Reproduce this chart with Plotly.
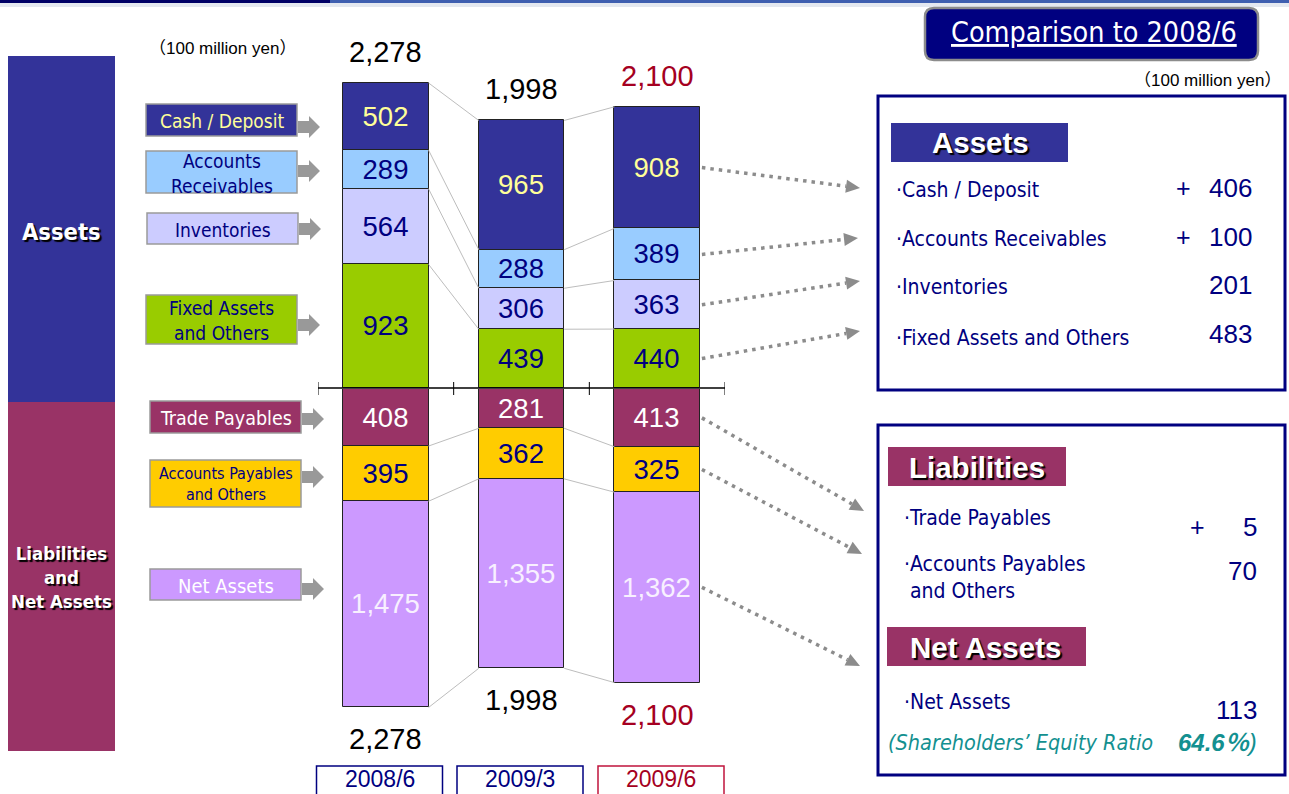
import math
import plotly.graph_objects as go

# ---------------- data ----------------
periods = ["2008/6", "2009/3", "2009/6"]
cash_deposit = [502, 965, 908]
accounts_receivables = [289, 288, 389]
inventories = [564, 306, 363]
fixed_assets_others = [923, 439, 440]
trade_payables = [408, 281, 413]
accounts_payables_others = [395, 362, 325]
net_assets = [1475, 1355, 1362]

change_asset_labels = ["Cash / Deposit", "Accounts Receivables", "Inventories", "Fixed Assets and Others"]
change_asset_signs = ["+", "+", "", ""]
change_asset_values = [406, 100, 201, 483]
change_liab_labels = ["Trade Payables", "Accounts Payables<br>and Others"]
change_liab_signs = ["+", ""]
change_liab_values = [5, 70]
change_net_label = "Net Assets"
change_net_value = 113
equity_ratio = 64.6

# ---------------- layout constants ----------------
W, H = 1289, 794
AX_L, AX_R = 318, 725
BASE_A, A_SCALE, TOP_A = 388, 0.1339, 40
BASE_L, L_SCALE, BOT_L = 389, 0.1398, 770
BW = 0.63
NARROW = "Liberation Sans Narrow, Arial Narrow, DejaVu Sans Condensed, sans-serif"
SANS = "Liberation Sans, Arial, Noto Sans CJK JP, sans-serif"
NAVY = "#000080"
n = len(periods)
cat_w = (AX_R - AX_L) / n


def px(x):
    return x / W


def py(y):
    return 1 - y / H


def xpix(xv):
    return AX_L + (xv + 0.5) * cat_w


def ya_pix(v):
    return BASE_A - v * A_SCALE


def yl_pix(v):
    return BASE_L + v * L_SCALE


asset_series = [
    ("Fixed Assets and Others", fixed_assets_others, "#99CC00", NAVY),
    ("Inventories", inventories, "#CCCCFF", NAVY),
    ("Accounts Receivables", accounts_receivables, "#99CCFF", NAVY),
    ("Cash / Deposit", cash_deposit, "#333399", "#FFFF99"),
]
liab_series = [
    ("Trade Payables", trade_payables, "#993366", "#FFFFFF"),
    ("Accounts Payables and Others", accounts_payables_others, "#FFCC00", NAVY),
    ("Net Assets", net_assets, "#CC99FF", "#F8F0FF"),
]

xs = list(range(n))
fig = go.Figure()


def connectors(series, sign, yaxis):
    cx, cy = [], []
    cum = [0] * n
    for _, vals, _, _ in series:
        cum = [c + v for c, v in zip(cum, vals)]
        for i in range(n - 1):
            cx += [i + BW / 2, i + 1 - BW / 2, None]
            cy += [sign * cum[i], sign * cum[i + 1], None]
    fig.add_trace(go.Scatter(x=cx, y=cy, mode="lines", yaxis=yaxis,
                             line=dict(color="#BDBDBD", width=1),
                             hoverinfo="skip", showlegend=False))


connectors(asset_series, 1, "y")
connectors(liab_series, -1, "y2")

for name, vals, col, tcol in asset_series:
    fig.add_trace(go.Bar(x=xs, y=vals, yaxis="y", width=BW, name=name,
                         marker=dict(color=col, line=dict(color="#222222", width=1)),
                         text=[f"{v:,}" for v in vals], textposition="inside",
                         insidetextanchor="middle", textangle=0,
                         textfont=dict(size=27.5, color=tcol, family=SANS),
                         hoverinfo="skip", showlegend=False))
for name, vals, col, tcol in liab_series:
    fig.add_trace(go.Bar(x=xs, y=[-v for v in vals], yaxis="y2", width=BW, name=name,
                         marker=dict(color=col, line=dict(color="#222222", width=1)),
                         text=[f"{v:,}" for v in vals], textposition="inside",
                         insidetextanchor="middle", textangle=0,
                         textfont=dict(size=27.5, color=tcol, family=SANS),
                         hoverinfo="skip", showlegend=False))

asset_tot = [sum(s[1][i] for s in asset_series) for i in range(n)]
liab_tot = [sum(s[1][i] for s in liab_series) for i in range(n)]
tot_colors = ["#000000", "#000000", "#A50021"]
period_colors = [NAVY, NAVY, "#C0143C"]
period_text = [NAVY, NAVY, "#A50021"]

annotations = []
shapes = []

for i in range(n):
    annotations.append(dict(x=i, y=asset_tot[i], xref="x", yref="y", yshift=31,
                            text=f"{asset_tot[i]:,}", showarrow=False,
                            font=dict(size=29, color=tot_colors[i], family=SANS)))
    annotations.append(dict(x=i, y=-liab_tot[i], xref="x", yref="y2", yshift=-32,
                            text=f"{liab_tot[i]:,}", showarrow=False,
                            font=dict(size=29, color=tot_colors[i], family=SANS)))


def ann(text, x, y, size, color, family=SANS, xanchor="center", yanchor="middle", shadow=None, align="center"):
    d = dict(text=text, x=px(x), y=py(y), xref="paper", yref="paper", showarrow=False,
             xanchor=xanchor, yanchor=yanchor, align=align,
             font=dict(size=size, color=color, family=family))
    if shadow:
        d["font"]["shadow"] = shadow
    annotations.append(d)


def rect(x0, y0, x1, y1, fill, line=None, lw=1, layer="above"):
    shapes.append(dict(type="rect", xref="paper", yref="paper",
                       x0=px(x0), x1=px(x1), y0=py(y1), y1=py(y0),
                       fillcolor=fill, line=dict(color=line or fill, width=lw if line else 0),
                       layer=layer))


def path(points, fill, line=None, lw=0):
    d = "M" + " L".join(f"{px(a):.5f},{py(b):.5f}" for a, b in points) + " Z"
    shapes.append(dict(type="path", xref="paper", yref="paper", path=d,
                       fillcolor=fill, line=dict(color=line or fill, width=lw)))


# top bar
rect(0, 0, 330, 3, "#000066")
rect(330, 0, W, 3, "#3F5FB0")
rect(0, 3, W, 7, "#E4E8F0")

# unit labels
ann("（100 million yen）", 222, 48, 17, "#000000")
ann("（100 million yen）", 1283, 80, 17, "#000000", xanchor="right")

# left big blocks
rect(8, 56, 115, 402, "#333399")
rect(8, 402, 115, 751, "#993366")
ann("<b>Assets</b>", 61, 232, 23.5, "#FFFFFF", family=NARROW, shadow="2px 2px 1px #000000")
ann("<b>Liabilities<br>and<br>Net Assets</b>", 61, 577, 18.5, "#FFFFFF", family=NARROW,
    shadow="2px 2px 1px #000000")

# left label boxes
label_texts = ["Cash / Deposit", "Accounts<br>Receivables", "Inventories", "Fixed Assets<br>and Others",
               "Trade Payables", "Accounts Payables<br>and Others", "Net Assets"]
label_fills = ["#333399", "#99CCFF", "#CCCCFF", "#99CC00", "#993366", "#FFCC00", "#CC99FF"]
label_tcols = ["#FFFF99", NAVY, NAVY, NAVY, "#FFFFFF", NAVY, "#FFFFFF"]
label_sizes = [19, 19, 19, 19, 19.5, 16, 20]
label_boxes = [(146, 104, 297, 136), (146, 151, 297, 193), (147, 213, 298, 244), (146, 295, 297, 344),
               (150, 401, 301, 433), (150, 460, 301, 507), (150, 569, 301, 600)]
arrow_y = [127, 171, 229, 325, 419, 477, 589]
for t, f, tc, sz, (x0, y0, x1, y1), ay in zip(label_texts, label_fills, label_tcols, label_sizes,
                                                label_boxes, arrow_y):
    rect(x0, y0, x1, y1, f, line="#9A9A9A", lw=1.5)
    ann(t, (x0 + x1) / 2, (y0 + y1) / 2 + 1, sz, tc, family=NARROW)
    b0 = x1 + 1
    path([(b0, ay - 6), (b0 + 11, ay - 6), (b0 + 11, ay - 11), (b0 + 22, ay),
          (b0 + 11, ay + 11), (b0 + 11, ay + 6), (b0, ay + 6)], "#999999")

# axis baseline with ticks at category boundaries
shapes.append(dict(type="line", xref="x", yref="paper", x0=-0.5, x1=n - 0.5,
                   y0=py(BASE_A), y1=py(BASE_A), line=dict(color="#000000", width=1.5), layer="above"))
for k in range(n + 1):
    shapes.append(dict(type="line", xref="x", yref="paper", x0=k - 0.5, x1=k - 0.5,
                       y0=py(BASE_A - 6), y1=py(BASE_A + 7), line=dict(color="#000000", width=1),
                       layer="above"))

# period boxes at bottom
period_centers = [379.5, 520, 661]
for p, c, bc, tc in zip(periods, period_centers, period_colors, period_text):
    rect(c - 63, 766, c + 63, 800, "#FFFFFF", line=bc, lw=1.5)
    ann(p, c, 794, 23, tc, yanchor="bottom")

# right panel: title button
bx0, by0, bx1, by1, r = 925, 8, 1258, 60, 9
shapes.append(dict(type="path", xref="paper", yref="paper",
                   path=(f"M{px(bx0 + r)},{py(by0)} L{px(bx1 - r)},{py(by0)} Q{px(bx1)},{py(by0)} {px(bx1)},{py(by0 + r)} "
                         f"L{px(bx1)},{py(by1 - r)} Q{px(bx1)},{py(by1)} {px(bx1 - r)},{py(by1)} "
                         f"L{px(bx0 + r)},{py(by1)} Q{px(bx0)},{py(by1)} {px(bx0)},{py(by1 - r)} "
                         f"L{px(bx0)},{py(by0 + r)} Q{px(bx0)},{py(by0)} {px(bx0 + r)},{py(by0)} Z"),
                   fillcolor=NAVY, line=dict(color="#8C8C8C", width=2.5)))
ann("<u>Comparison to 2008/6</u>", 1094, 33, 28.5, "#FFFFFF", family=NARROW)

# panel boxes
rect(878, 96, 1285, 390, "#FFFFFF", line=NAVY, lw=3, layer="below")
rect(878, 425, 1285, 775, "#FFFFFF", line=NAVY, lw=3, layer="below")

rect(891, 123, 1068, 162, "#333399")
ann("<b>Assets</b>", 980, 143, 29.5, "#FFFFFF", shadow="2px 2px 1px #000000")
rect(888, 447, 1066, 486, "#993366")
ann("<b>Liabilities</b>", 977, 467, 29.5, "#FFFFFF", shadow="2px 2px 1px #000000")
rect(887, 627, 1086, 666, "#993366")
ann("<b>Net Assets</b>", 986, 647, 29.5, "#FFFFFF", shadow="2px 2px 1px #000000")

asset_row_y = [190, 239, 287, 338]
asset_val_y = [188, 237, 285, 334]
for lab, sg, v, yy, vy in zip(change_asset_labels, change_asset_signs, change_asset_values,
                               asset_row_y, asset_val_y):
    ann("·" + lab, 894, yy, 21, NAVY, family=NARROW, xanchor="left")
    if sg:
        ann(sg, 1183, vy, 25, NAVY)
    ann(f"{v:,}", 1254, vy, 26, NAVY, xanchor="right")

liab_row_y = [518, 577]
liab_val_y = [527, 571]
for lab, sg, v, yy, vy in zip(change_liab_labels, change_liab_signs, change_liab_values,
                               liab_row_y, liab_val_y):
    ann("·" + lab.replace("<br>", "<br> "), 902, yy, 21, NAVY, family=NARROW, xanchor="left", align="left")
    if sg:
        ann(sg, 1197, vy, 25, NAVY)
    ann(f"{v:,}", 1259, vy, 26, NAVY, xanchor="right")

ann("·" + change_net_label, 902, 702, 21, NAVY, family=NARROW, xanchor="left")
ann(f"{change_net_value:,}", 1259, 710, 26, NAVY, xanchor="right")
ann("<i>(Shareholders’ Equity Ratio</i>", 886, 742, 21.5, "#139090", family=NARROW, xanchor="left")
ann(f"<i><b>{equity_ratio}％</b>)</i>", 1259, 742, 24, "#139090", xanchor="right")

# dotted arrows from the 2009/6 bar to the comparison panel
last = n - 1
x_start = xpix(last + BW / 2) + 2
asset_ends = {"Cash / Deposit": (860, 188), "Accounts Receivables": (858, 238),
              "Inventories": (860, 281), "Fixed Assets and Others": (860, 331)}
liab_ends = {"Trade Payables": (864, 511), "Accounts Payables and Others": (862, 554),
             "Net Assets": (860, 666)}
starts = []
cum = 0
for name, vals, _, _ in asset_series:
    starts.append((name, ya_pix(cum + vals[last] / 2), asset_ends[name]))
    cum += vals[last]
cum = 0
for name, vals, _, _ in liab_series:
    starts.append((name, yl_pix(cum + vals[last] / 2), liab_ends[name]))
    cum += vals[last]
for name, sy, (ex, ey) in starts:
    dx, dy = ex - x_start, ey - sy
    L = math.hypot(dx, dy)
    ux, uy = dx / L, dy / L
    hl, hw = 14, 6.5
    bx, byy = ex - ux * hl, ey - uy * hl
    shapes.append(dict(type="line", xref="paper", yref="paper",
                       x0=px(x_start), y0=py(sy), x1=px(bx), y1=py(byy),
                       line=dict(color="#8C8C8C", width=3.5, dash="3.5px,5px")))
    path([(ex, ey), (bx - uy * hw, byy + ux * hw), (bx + uy * hw, byy - ux * hw)], "#8C8C8C")

fig.update_layout(
    width=W, height=H, margin=dict(l=0, r=0, t=0, b=0),
    paper_bgcolor="#FFFFFF", plot_bgcolor="rgba(0,0,0,0)",
    barmode="relative", bargap=0, showlegend=False,
    uniformtext=dict(minsize=27.5, mode="show"),
    xaxis=dict(domain=[px(AX_L), px(AX_R)], range=[-0.5, n - 0.5], visible=False, fixedrange=True),
    yaxis=dict(domain=[py(BASE_A), py(TOP_A)], range=[0, (BASE_A - TOP_A) / A_SCALE],
               visible=False, fixedrange=True),
    yaxis2=dict(domain=[py(BOT_L), py(BASE_L)], range=[-(BOT_L - BASE_L) / L_SCALE, 0],
                visible=False, fixedrange=True, anchor="x"),
    annotations=annotations, shapes=shapes,
)

fig.write_html("out.html", config={"displayModeBar": False},
               post_script="document.body.style.margin='0';document.body.style.overflow='hidden';")
